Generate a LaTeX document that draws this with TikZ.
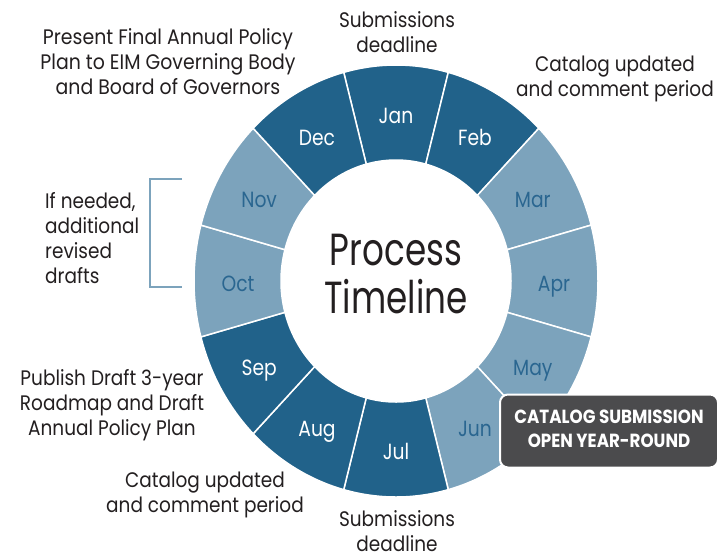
\documentclass[tikz,border=0pt]{standalone}
\usepackage{fontspec}
\setmainfont{Poppins}
\usepackage{graphicx}
\usetikzlibrary{positioning}

\definecolor{ringdark}{HTML}{21628A}
\definecolor{ringlight}{HTML}{7CA3BC}
\definecolor{monthlight}{HTML}{2A6690}
\definecolor{calloutgray}{HTML}{4B4B4D}
\definecolor{labeltext}{HTML}{231F20}

% squeezed multi-line text
\newcommand{\narrow}[3][0.88]{\scalebox{#1}[1]{\begin{tabular}{@{}#2@{}}#3\end{tabular}}}

\begin{document}
\begin{tikzpicture}[x=1pt, y=-1pt,
    month/.style={font=\fontsize{22}{26}\selectfont, inner sep=0pt},
    note/.style={font=\fontsize{21}{25}\selectfont, text=labeltext, inner sep=0pt},
    segment/.style={draw=white, line width=1.5pt}]
    \useasboundingbox (0,0) rectangle (720,558);

    % ring of months
    \begin{scope}[shift={(396,281)}]
        \foreach \m/\f/\t [count=\i from 0] in {Jan/ringdark/white, Feb/ringdark/white,
            Mar/ringlight/monthlight, Apr/ringlight/monthlight, May/ringlight/monthlight,
            Jun/ringlight/monthlight, Jul/ringdark/white, Aug/ringdark/white,
            Sep/ringdark/white, Oct/ringlight/monthlight, Nov/ringlight/monthlight,
            Dec/ringdark/white}{
            \pgfmathsetmacro{\a}{30*\i-105}
            \pgfmathsetmacro{\b}{30*\i-75}
            \pgfmathsetmacro{\c}{30*\i-90}
            \draw[segment, fill=\f] (\a:202 and 216)
                arc[start angle=\a, end angle=\b, x radius=202, y radius=216]
                -- (\b:115 and 121)
                arc[start angle=\b, end angle=\a, x radius=115, y radius=121] -- cycle;
            \node[month, text=\t, yshift=-5pt] (m\m) at (\c:158 and 168) {\narrow[0.85]{c}{\m}};
        }
    \end{scope}

    \node[font=\fontsize{45}{47}\selectfont, text=labeltext, inner sep=0pt] (title)
        at (396,280) {\narrow[0.76]{c}{Process\\Timeline}};

    % notes around the ring
    \node[note] (jan note) at (397,35) {\narrow{c}{Submissions\\deadline}};
    \node[note] (feb note) at (615,79) {\narrow{c}{Catalog updated\\and comment period}};
    \node[note] (dec note) at (168,64) {\narrow[0.9]{c}{Present Final Annual Policy\\Plan to EIM Governing Body\\and Board of Governors}};
    \node[note, anchor=west] (nov note) at (45,241) {\narrow{l}{If needed,\\additional\\revised\\drafts}};
    \node[note] (sep note) at (112,405) {\narrow{c}{Publish Draft 3-year\\Roadmap and Draft\\Annual Policy Plan}};
    \node[note] (aug note) at (205,495) {\narrow{c}{Catalog updated\\and comment period}};
    \node[note] (jul note) at (397,534) {\narrow{c}{Submissions\\deadline}};

    % bracket for Oct and Nov
    \coordinate (br top) at (182,179);
    \coordinate (br bot) at (182,287);
    \draw[ringlight, line width=2pt] (br top) -- ++(-32,0) |- (br bot);

    % callout
    \node[draw=white, line width=2pt, fill=calloutgray, rounded corners=8pt,
        minimum width=218pt, minimum height=73pt, inner sep=0pt, text=white,
        font=\bfseries\fontsize{19}{24}\selectfont] (callout)
        at (609,431) {\narrow[0.88]{c}{CATALOG SUBMISSION\\OPEN YEAR-ROUND}};
\end{tikzpicture}
\end{document}
